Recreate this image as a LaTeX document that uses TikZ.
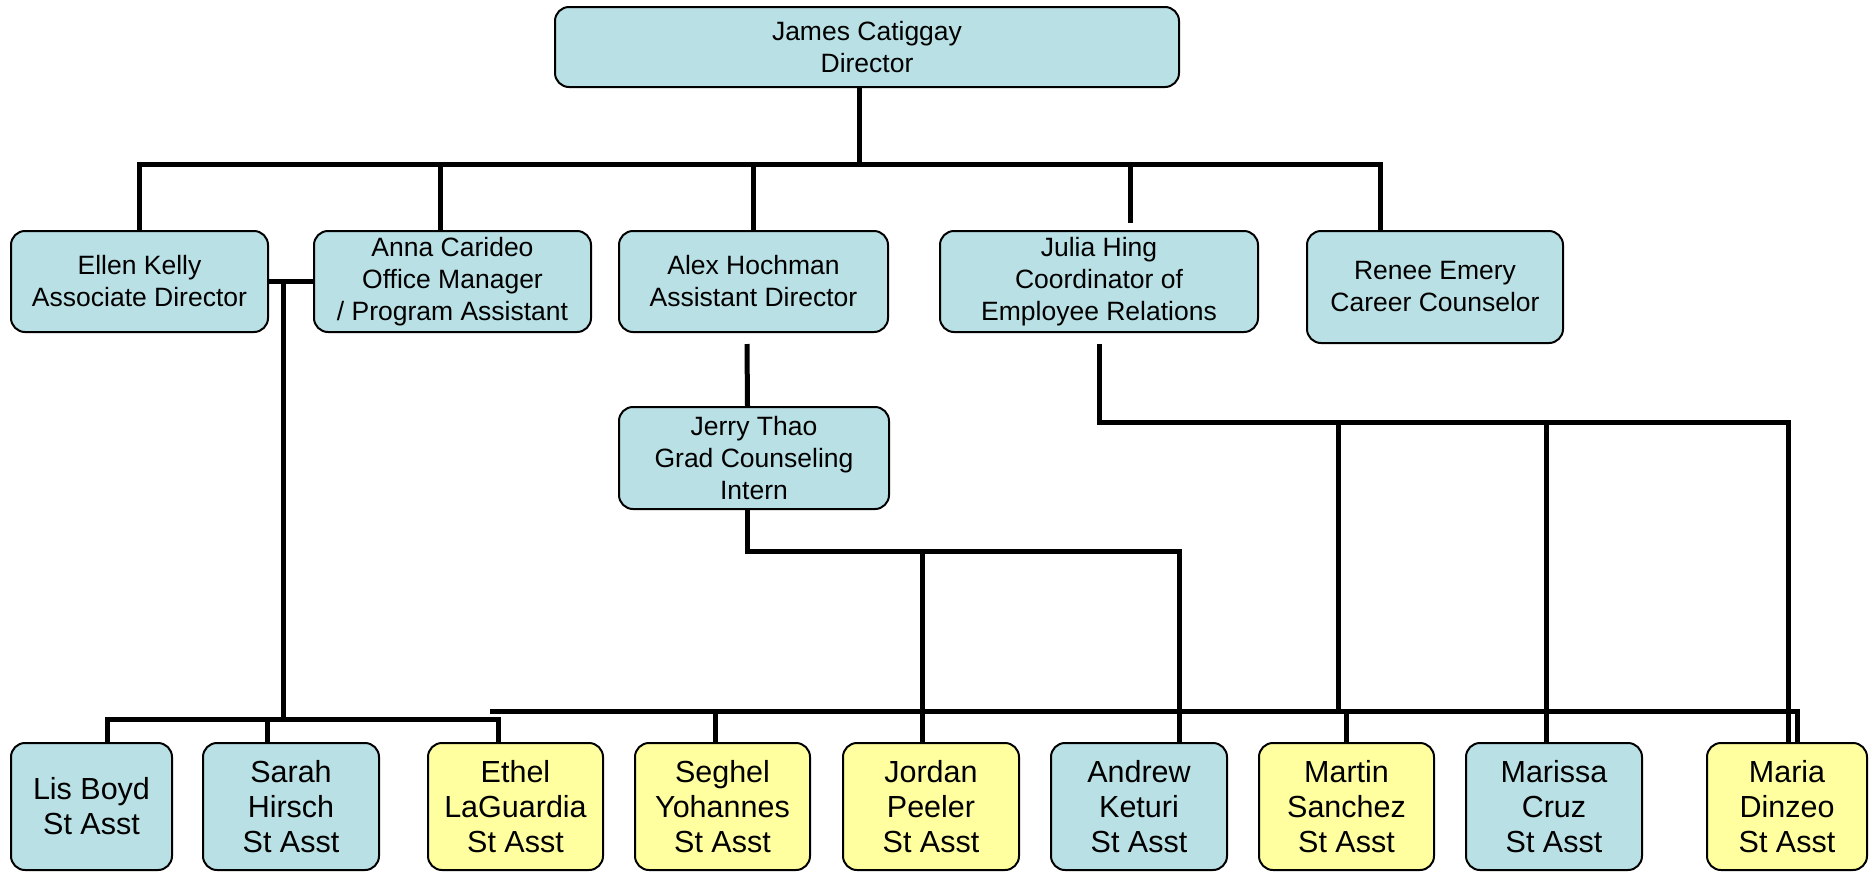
\documentclass[tikz,border=0pt]{standalone}
\usepackage{fontspec}
\setmainfont{Liberation Sans}

\definecolor{boxblue}{RGB}{185,224,228}
\definecolor{boxyellow}{RGB}{255,255,160}

\tikzset{every picture/.style={line width=0.75pt}}
\tikzset{
  staffbox/.style={draw=black, line width=2pt, rounded corners=14pt, align=center, inner sep=0pt, fill=boxblue, font=\fontsize{26.5}{32}\selectfont},
  asstbox/.style={staffbox, minimum width=176, minimum height=127, font=\fontsize{30.5}{35}\selectfont},
  yellowbox/.style={asstbox, fill=boxyellow},
  conn/.style={draw=black, line width=5pt}
}

\begin{document}
\begin{tikzpicture}[x=1pt,y=1pt,yscale=-1,xscale=1]
\useasboundingbox (0,0) rectangle (1875,871);

% Director
\node [staffbox, minimum width=624, minimum height=80] (james) at (867,47) {James Catiggay\\Director};

% Second row
\node [staffbox, minimum width=257, minimum height=101] (ellen) at (139.5,281.5) {Ellen Kelly\\Associate Director};
\node [staffbox, minimum width=277, minimum height=101] (anna) at (452.5,281.5) {Anna Carideo\\Office Manager\\/ Program Assistant};
\node [staffbox, minimum width=269, minimum height=101] (alex) at (753.5,281.5) {Alex Hochman\\Assistant Director};
\node [staffbox, minimum width=318, minimum height=101] (julia) at (1099,281.5) {Julia Hing\\Coordinator of\\Employee Relations};
\node [staffbox, minimum width=256, minimum height=112] (renee) at (1435,287) {Renee Emery\\Career Counselor};

% Intern
\node [staffbox, minimum width=270, minimum height=102] (jerry) at (754,458) {Jerry Thao\\Grad Counseling\\Intern};

% Student assistants
\node [asstbox, minimum width=161] (lis) at (91.5,806.5) {Lis Boyd\\St Asst};
\node [asstbox] (sarah) at (291,806.5) {Sarah\\Hirsch\\St Asst};
\node [yellowbox, minimum width=175] (ethel) at (515.5,806.5) {Ethel\\LaGuardia\\St Asst};
\node [yellowbox, minimum width=175] (seghel) at (722.5,806.5) {Seghel\\Yohannes\\St Asst};
\node [yellowbox] (jordan) at (931,806.5) {Jordan\\Peeler\\St Asst};
\node [asstbox] (andrew) at (1139,806.5) {Andrew\\Keturi\\St Asst};
\node [yellowbox, minimum width=175] (martin) at (1346.5,806.5) {Martin\\Sanchez\\St Asst};
\node [asstbox] (marissa) at (1554,806.5) {Marissa\\Cruz\\St Asst};
\node [yellowbox, minimum width=160] (maria) at (1787,806.5) {Maria\\Dinzeo\\St Asst};

% Bus points
\coordinate (tb) at (859,164);
\coordinate (lb) at (283,719);
\coordinate (lgA) at (490,711);
\coordinate (lgB) at (1797,711);
\coordinate (jb) at (922,551);
\coordinate (jh) at (1338,422);

%Straight Lines: director to second row
\draw [conn] ([xshift=-8]james.south) -- (tb);
\draw [conn] (ellen.north) |- (tb) -| ([xshift=-55]renee.north);
\draw [conn] ([xshift=-12.5]anna.north) -- ([xshift=-12.5]anna.north |- tb);
\draw [conn] (alex.north) -- (alex.north |- tb);
\draw [conn] ([xshift=31,yshift=-7]julia.north) -- ([xshift=31]julia.north |- tb);

%Straight Lines: Ellen / Anna group
\draw [conn] (ellen.east) -- (anna.west);
\draw [conn] (lb |- ellen.east) -- (lb);
\draw [conn] ([xshift=15.5]lis.north) |- (lb) -| ([xshift=-17.5]ethel.north);
\draw [conn] ([xshift=-24]sarah.north) -- ([xshift=-24]sarah.north |- lb);

%Straight Lines: long bus
\draw [conn] (lgA) -- (lgB) -- (lgB |- maria.north);
\draw [conn] ([xshift=-7.5]seghel.north) -- ([xshift=-7.5]seghel.north |- lgA);
\draw [conn] (martin.north) -- (martin.north |- lgA);

%Straight Lines: Alex / Jerry
\draw [conn] ([xshift=-6.5,yshift=11]alex.south) -- ([xshift=-6.5]jerry.north);
\draw [conn] ([xshift=-6.5]jerry.south) |- (jb) -| ([xshift=40]andrew.north);
\draw [conn] (jb) -- ([xshift=-9]jordan.north);

%Straight Lines: Julia
\draw [conn] ([yshift=11]julia.south) |- (jh) -| ([xshift=1]maria.north);
\draw [conn] (jh) -- (jh |- lgA);
\draw [conn] ([xshift=-8]marissa.north) -- ([xshift=-8]marissa.north |- jh);

\end{tikzpicture}
\end{document}
